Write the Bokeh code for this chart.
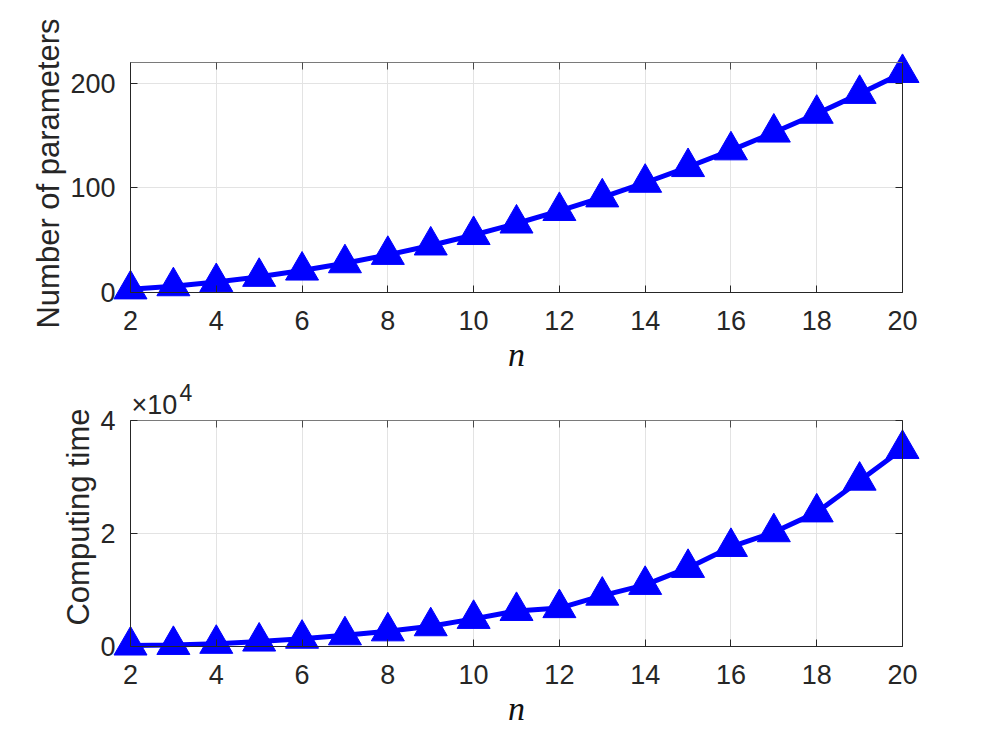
from bokeh.plotting import figure
from bokeh.layouts import column
from bokeh.models import LinearAxis, FixedTicker, Range1d, Label, ColumnDataSource
from bokeh.embed import file_html
from bokeh.resources import INLINE

# ---- data ----
n_values = [2, 3, 4, 5, 6, 7, 8, 9, 10, 11, 12, 13, 14, 15, 16, 17, 18, 19, 20]
num_parameters = [3, 6, 10, 15, 21, 28, 36, 45, 55, 66, 78, 91, 105, 120, 136, 153, 171, 190, 210]
computing_time = [200, 300, 500, 900, 1400, 2000, 2700, 3600, 4900, 6300, 6800, 9000,
                  10900, 13900, 17600, 20200, 23700, 29300, 34900]
x_ticks = [2, 4, 6, 8, 10, 12, 14, 16, 18, 20]
x_lo, x_hi = 2, 20
top_y_ticks = [0, 100, 200]
top_y_max = 220
bottom_y_ticks = [0, 20000, 40000]
bottom_y_tick_labels = ["0", "2", "4"]
bottom_y_max = 40000
top_ylabel = "Number of parameters"
bottom_ylabel = "Computing time"
xlabel = "n"
exponent_base = "\u00d710"
exponent_power = "4"

# ---- layout (pixels) ----
W = 960
H1, H2 = 375, 370
BOX_LEFT, BOX_RIGHT = 130, 902          # axes box in x
BOX_W = BOX_RIGHT - BOX_LEFT
PAD_X = 20                              # room for markers beyond the box

AX = "#262626"
GRID = "#e3e3e3"
TICK_FONT = "Liberation Sans"
BLUE = "#0000FF"


def style_box_axis(ax):
    ax.axis_line_color = AX
    ax.axis_line_width = 1
    ax.major_tick_line_color = AX
    ax.major_tick_in = 7
    ax.major_tick_out = 0
    ax.minor_tick_line_color = None
    ax.major_label_text_color = None
    ax.major_label_standoff = 0


def style_label_axis(ax):
    ax.axis_line_color = None
    ax.major_tick_line_color = None
    ax.minor_tick_line_color = None
    ax.major_tick_in = 0
    ax.major_tick_out = 0
    ax.major_label_text_font = TICK_FONT
    ax.major_label_text_font_size = "27px"
    ax.major_label_text_color = AX


def make_fig(H, box_top, box_bottom, pad_top, pad_bottom, y_max, y_ticks, ylabel, ys,
             overrides=None):
    box_h = box_bottom - box_top
    xpad = (x_hi - x_lo) * PAD_X / BOX_W
    ypad_b = y_max * pad_bottom / box_h
    ypad_t = y_max * pad_top / box_h
    p = figure(width=W, height=H,
               x_range=Range1d(x_lo - xpad, x_hi + xpad),
               y_range=Range1d(0 - ypad_b, y_max + ypad_t),
               output_backend="svg", toolbar_location=None,
               min_border_left=BOX_LEFT - PAD_X,
               min_border_right=W - BOX_RIGHT - PAD_X,
               min_border_top=box_top - pad_top,
               min_border_bottom=H - box_bottom - pad_bottom)
    p.outline_line_color = None
    p.background_fill_color = "white"
    p.border_fill_color = "white"

    # box axes (lines + inward ticks) at the data limits
    b_below = LinearAxis(fixed_location=0, ticker=FixedTicker(ticks=x_ticks), bounds=(x_lo, x_hi))
    b_above = LinearAxis(fixed_location=y_max, ticker=FixedTicker(ticks=x_ticks), bounds=(x_lo, x_hi))
    b_left = LinearAxis(fixed_location=x_lo, ticker=FixedTicker(ticks=y_ticks), bounds=(0, y_max))
    b_right = LinearAxis(fixed_location=x_hi, ticker=FixedTicker(ticks=y_ticks), bounds=(0, y_max))
    for ax, side in ((b_below, "below"), (b_above, "above"), (b_left, "left"), (b_right, "right")):
        style_box_axis(ax)
        p.add_layout(ax, side)
    b_above.axis_line_color = "#7a7a7a"
    b_above.major_tick_line_color = "#4a4a4a"

    # label axes in the side panels
    bx = p.below[0]
    ly = p.left[0]
    bx.ticker = FixedTicker(ticks=x_ticks)
    ly.ticker = FixedTicker(ticks=y_ticks)
    style_label_axis(bx)
    style_label_axis(ly)

    bx.major_label_standoff = 6
    bx.axis_label = xlabel
    bx.axis_label_text_font = "Liberation Serif"
    bx.axis_label_text_font_style = "italic"
    bx.axis_label_text_font_size = "34px"
    bx.axis_label_text_color = "#111111"
    bx.axis_label_standoff = 3

    ly.major_label_standoff = -5
    ly.axis_label = ylabel
    ly.axis_label_text_font = TICK_FONT
    ly.axis_label_text_font_style = "normal"
    ly.axis_label_text_font_size = "31px"
    ly.axis_label_text_color = AX
    ly.axis_label_standoff = 1
    if overrides:
        ly.major_label_overrides = overrides

    p.xgrid.ticker = FixedTicker(ticks=x_ticks)
    p.ygrid.ticker = FixedTicker(ticks=y_ticks)
    p.grid.grid_line_color = GRID
    p.grid.grid_line_width = 1
    p.xgrid.cross_bounds = (0, y_max)
    p.ygrid.cross_bounds = (x_lo, x_hi)

    src = ColumnDataSource(dict(x=n_values, y=ys))
    p.line("x", "y", source=src, line_width=5, line_color=BLUE)
    p.scatter("x", "y", source=src, marker="triangle", size=33,
              fill_color=BLUE, line_color=BLUE)
    return p


p1 = make_fig(H1, 62, 292, 20, 12, top_y_max, top_y_ticks, top_ylabel, num_parameters)
p2 = make_fig(H2, 417 - H1, 646 - H1, 45, 12, bottom_y_max, bottom_y_ticks, bottom_ylabel,
              computing_time,
              overrides={t: s for t, s in zip(bottom_y_ticks, bottom_y_tick_labels)})

p2.add_layout(Label(x=x_lo, y=bottom_y_max, x_offset=1, y_offset=15, text=exponent_base,
                    text_font=TICK_FONT, text_font_size="27px", text_color=AX,
                    text_baseline="alphabetic", text_align="left"))
p2.add_layout(Label(x=x_lo, y=bottom_y_max, x_offset=49, y_offset=28, text=exponent_power,
                    text_font=TICK_FONT, text_font_size="23px", text_color=AX,
                    text_baseline="alphabetic", text_align="left"))

layout = column(p1, p2, spacing=0)
open("out.html", "w").write(file_html(layout, INLINE))
